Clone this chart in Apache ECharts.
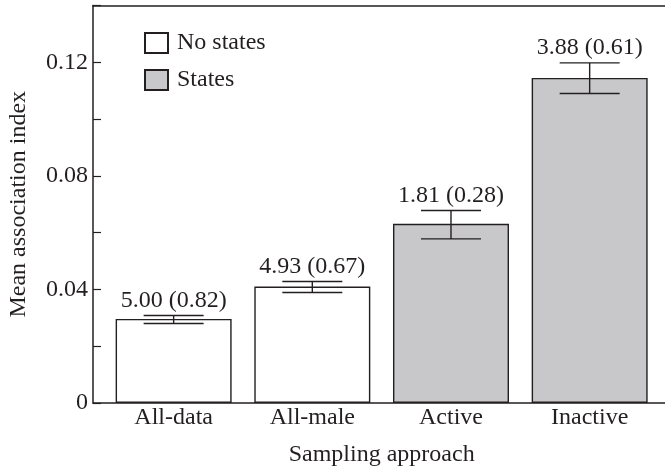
<!DOCTYPE html>
<html>
<head>
<meta charset="utf-8">
<script src="https://cdn.jsdelivr.net/npm/echarts@6/dist/echarts.min.js"></script>
<style>html,body{margin:0;padding:0;background:#fff;}#c{width:665px;height:468px;}</style>
</head>
<body>
<div id="c"></div>
<script>
const categories = ['All-data', 'All-male', 'Active', 'Inactive'];
const noStates = [0.0296, 0.0410, '-', '-'];
const states = ['-', '-', 0.0631, 0.1145];
const errLower = [0.0280, 0.0389, 0.0578, 0.1090];
const errUpper = [0.0308, 0.0428, 0.0678, 0.1198];
const barLabels = ['5.00 (0.82)', '4.93 (0.67)', '1.81 (0.28)', '3.88 (0.61)'];
const yTickLabels = ['0', '', '0.04', '', '0.08', '', '0.12', ''];

const FONT = 'Liberation Serif';
const FS = 24;
const INK = '#231f20';

const chart = echarts.init(document.getElementById('c'), null, {renderer: 'canvas'});
const errData = categories.map((c, i) => [i, errLower[i], errUpper[i]]);

chart.setOption({
  animation: false,
  textStyle: {fontFamily: FONT},
  grid: [
    {left: 93, right: 0, top: 5.5, bottom: 65, outerBoundsMode: 'none', containLabel: false},
    {left: 104.3, width: 554.7, top: 5.5, bottom: 65, outerBoundsMode: 'none', containLabel: false}
  ],
  legend: {
    data: ['No states', 'States'],
    orient: 'vertical',
    left: 139, top: 26,
    itemWidth: 23, itemHeight: 20, itemGap: 13,
    icon: 'rect',
    textStyle: {fontFamily: FONT, fontSize: FS, color: INK, padding: [0, 0, 0, 4]}
  },
  xAxis: [
    {gridIndex: 0, type: 'value', min: 0, max: 1, position: 'bottom',
     axisLine: {show: true, lineStyle: {color: INK, width: 1.5}}, axisTick: {show: false},
     axisLabel: {show: false}, splitLine: {show: false}},
    {gridIndex: 0, type: 'value', min: 0, max: 1, position: 'top',
     axisLine: {show: true, lineStyle: {color: INK, width: 1.5}}, axisTick: {show: false},
     axisLabel: {show: false}, splitLine: {show: false}},
    {gridIndex: 1, type: 'category', data: categories,
     axisLine: {show: false}, axisTick: {show: false},
     axisLabel: {fontFamily: FONT, fontSize: FS, color: INK, margin: 3},
     name: 'Sampling approach', nameLocation: 'middle', nameGap: 40,
     nameTextStyle: {fontFamily: FONT, fontSize: FS, color: INK}}
  ],
  yAxis: [
    {gridIndex: 0, type: 'value', min: 0, max: 0.14, interval: 0.02,
     axisLine: {show: true, lineStyle: {color: INK, width: 1.5}},
     axisTick: {show: true, inside: true, length: 8, lineStyle: {color: INK, width: 1.2}},
     axisLabel: {fontFamily: FONT, fontSize: FS, color: INK, margin: 5,
       formatter: (v) => yTickLabels[Math.round(v / 0.02)] || ''},
     splitLine: {show: false},
     name: 'Mean association index', nameLocation: 'middle', nameGap: 62, nameRotate: 90,
     nameTextStyle: {fontFamily: FONT, fontSize: FS, color: INK}},
    {gridIndex: 1, type: 'value', min: 0, max: 0.14, show: false}
  ],
  series: [
    {name: 'No states', type: 'bar', xAxisIndex: 2, yAxisIndex: 1, data: noStates,
     barWidth: 116, barGap: '-100%',
     itemStyle: {color: '#ffffff', borderColor: INK, borderWidth: 1.4}},
    {name: 'States', type: 'bar', xAxisIndex: 2, yAxisIndex: 1, data: states,
     barWidth: 116, barGap: '-100%',
     itemStyle: {color: '#c8c8ca', borderColor: INK, borderWidth: 1.4}},
    {name: 'err', type: 'custom', xAxisIndex: 2, yAxisIndex: 1, data: errData,
     z: 10,
     renderItem: function (params, api) {
       const x = api.value(0);
       const lo = api.coord([x, api.value(1)]);
       const hi = api.coord([x, api.value(2)]);
       const half = 30;
       const style = {stroke: INK, lineWidth: 1.4};
       return {
         type: 'group',
         children: [
           {type: 'line', shape: {x1: lo[0], y1: lo[1], x2: hi[0], y2: hi[1]}, style: style},
           {type: 'line', shape: {x1: hi[0] - half, y1: hi[1], x2: hi[0] + half, y2: hi[1]}, style: style},
           {type: 'line', shape: {x1: lo[0] - half, y1: lo[1], x2: lo[0] + half, y2: lo[1]}, style: style},
           {type: 'text', x: hi[0], y: hi[1] - 15,
            style: {text: barLabels[params.dataIndex], fill: INK, font: FS + 'px "' + FONT + '"',
                    align: 'center', verticalAlign: 'middle'}}
         ]
       };
     }}
  ]
});
</script>
</body>
</html>
